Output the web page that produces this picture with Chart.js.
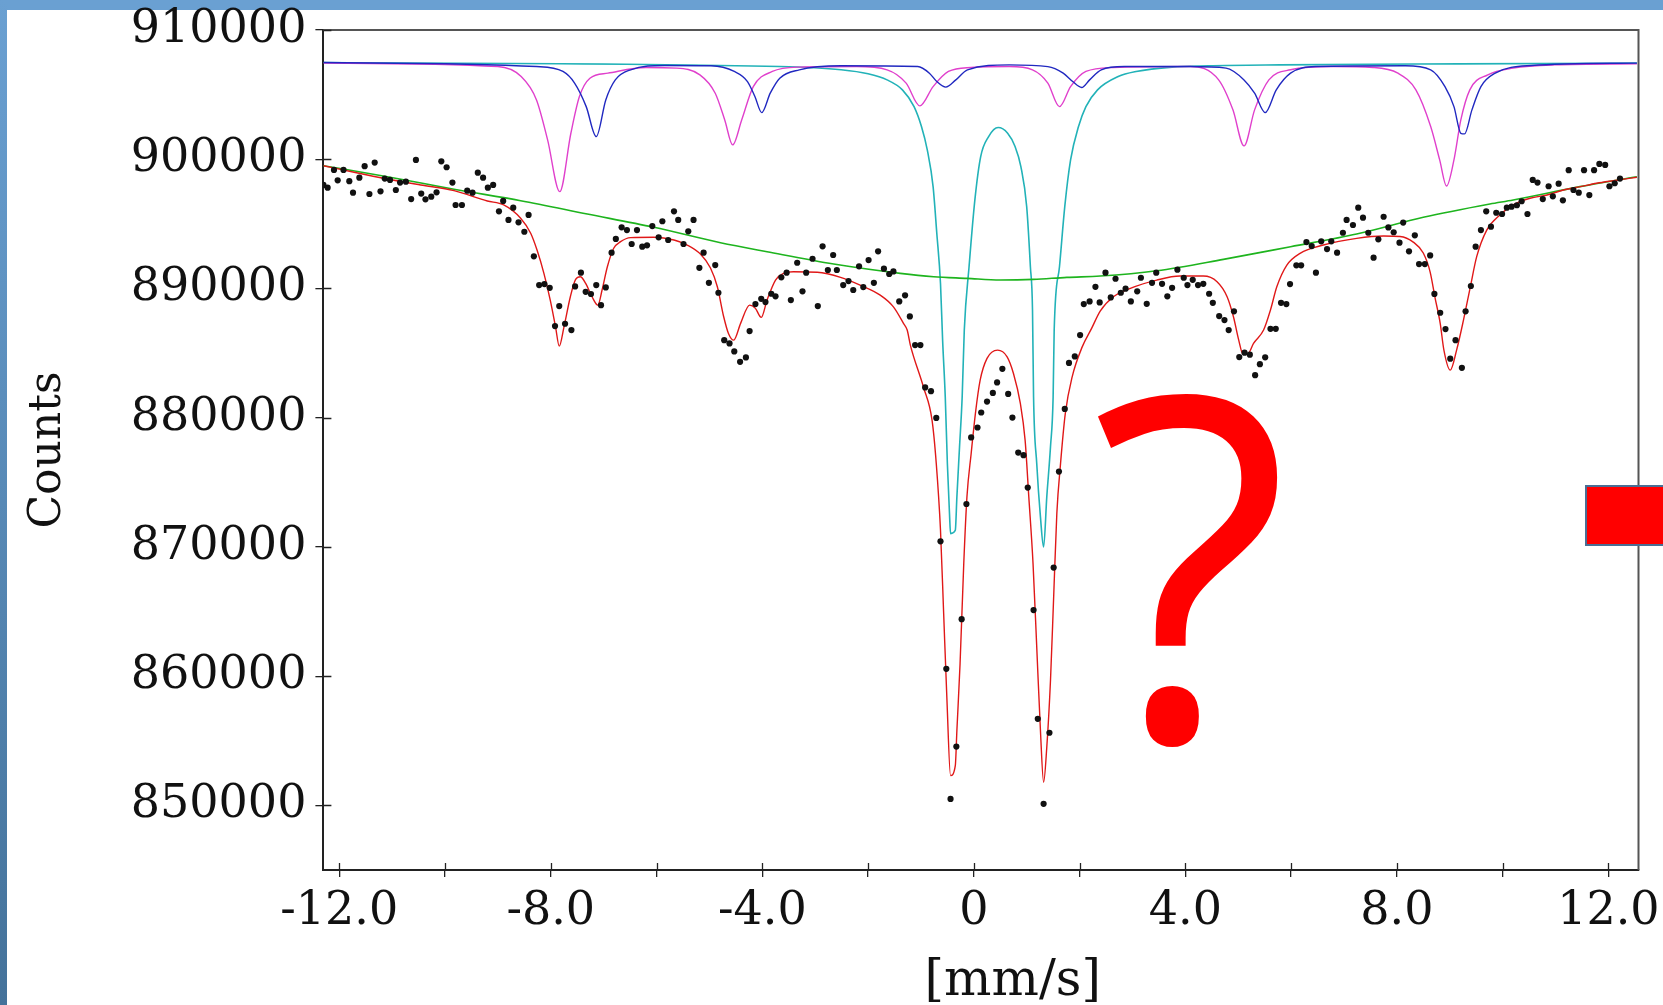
<!DOCTYPE html>
<html>
<head>
<meta charset="utf-8">
<script src="https://cdn.jsdelivr.net/npm/chart.js@4.4.1/dist/chart.umd.min.js"></script>
<style>
  html, body { margin:0; padding:0; background:#ffffff; overflow:hidden; }
  #topband { position:absolute; left:0; top:0; width:1663px; height:10px; background:#6aa0d2; }
  #leftband { position:absolute; left:0; top:0; width:7px; height:1005px; background:linear-gradient(#6aa0d2, #44729a); }
  #c { position:absolute; left:0; top:0; }
  #redbox { position:absolute; left:1585px; top:485px; width:80px; height:57px; background:#ff0000; border:2px solid #4a6e94; box-sizing:content-box; }
</style>
</head>
<body>
<div id="topband"></div>
<div id="leftband"></div>
<canvas id="c" width="1663" height="1005"></canvas>
<div id="redbox"></div>
<script>
// ---------- data (velocity in mm/s, counts) ----------
const pointV = [-12.30,-12.22,-12.10,-12.03,-11.92,-11.81,-11.74,-11.62,-11.52,-11.43,
-11.33,-11.22,-11.14,-11.04,-10.93,-10.85,-10.74,-10.64,-10.55,-10.45,
-10.37,-10.26,-10.16,-10.07,-9.97,-9.86,-9.80,-9.68,-9.58,-9.48,
-9.38,-9.28,-9.19,-9.09,-8.98,-8.90,-8.80,-8.71,-8.61,-8.50,
-8.42,-8.32,-8.22,-8.12,-8.02,-7.92,-7.84,-7.73,-7.61,-7.54,
-7.43,-7.34,-7.24,-7.14,-7.05,-6.96,-6.85,-6.77,-6.66,-6.56,
-6.47,-6.37,-6.27,-6.18,-6.08,-5.96,-5.89,-5.78,-5.67,-5.59,
-5.49,-5.40,-5.30,-5.19,-5.11,-5.01,-4.89,-4.83,-4.72,-4.62,
-4.53,-4.42,-4.31,-4.24,-4.13,-4.02,-3.94,-3.83,-3.75,-3.64,
-3.54,-3.46,-3.34,-3.24,-3.17,-3.05,-2.95,-2.86,-2.76,-2.66,
-2.59,-2.47,-2.37,-2.28,-2.17,-2.09,-1.99,-1.89,-1.81,-1.70,
-1.60,-1.52,-1.41,-1.30,-1.21,-1.11,-1.01,-0.92,-0.81,-0.71,
-0.63,-0.52,-0.44,-0.33,-0.23,-0.14,-0.05,0.07,0.14,0.25,
0.36,0.44,0.54,0.65,0.73,0.84,0.94,1.02,1.13,1.21,
1.32,1.43,1.51,1.61,1.72,1.80,1.91,2.01,2.08,2.19,
2.30,2.38,2.49,2.59,2.68,2.78,2.87,2.97,3.09,3.16,
3.27,3.37,3.45,3.56,3.66,3.75,3.85,3.97,4.04,4.14,
4.24,4.34,4.45,4.52,4.64,4.74,4.82,4.92,5.02,5.12,
5.22,5.32,5.41,5.51,5.61,5.71,5.81,5.91,5.98,6.10,
6.19,6.29,6.39,6.47,6.57,6.68,6.76,6.87,6.98,7.05,
7.17,7.27,7.36,7.46,7.56,7.65,7.75,7.84,7.94,8.05,
8.12,8.23,8.34,8.42,8.53,8.63,8.71,8.82,8.92,9.01,
9.11,9.23,9.30,9.40,9.49,9.59,9.69,9.78,9.88,9.99,
10.08,10.17,10.27,10.36,10.47,10.57,10.66,10.76,10.87,10.95,
11.06,11.14,11.25,11.34,11.44,11.54,11.64,11.73,11.83,11.94,
12.02,12.12,12.22];
const pointCounts = [898010,897800,899170,898370,899170,898300,897410,898570,899460,897310,
899740,897520,898500,898400,897620,898190,898260,896920,899950,897340,
896900,897100,897440,899840,899380,898190,896460,896460,897570,897410,
898960,898570,897800,898010,895970,896770,895300,896250,895120,894390,
895690,892490,890260,890340,890050,887090,888640,887270,886780,890160,
891220,889740,889570,890260,888710,890080,892770,893830,894730,894520,
893440,894520,893230,893340,894830,893960,895200,893750,895970,895300,
893440,894420,895300,891600,892770,890440,891810,889670,886000,885750,
885130,884320,884660,886700,888790,889200,888950,889590,889390,890860,
891220,889100,891990,889780,891220,892300,888640,893260,891430,892590,
891430,890260,890570,889880,891710,890110,892200,890440,892870,891530,
891120,891320,889000,889470,887840,885620,885620,882340,882050,879980,
870430,860570,850500,854550,864410,873320,878470,879240,880400,881250,
881920,882730,883780,881840,880010,877300,877100,874590,865110,856700,
850120,855620,868400,875830,880680,884240,884740,886390,888790,889000,
890130,888920,891220,889310,890750,889670,889980,889000,889780,890830,
888810,890440,891220,890360,889390,890050,891450,890830,890260,890670,
890260,890360,889590,888890,887860,887550,886780,888230,884690,885030,
884880,883290,884140,884670,886880,886880,888890,888790,890340,891790,
891790,893590,893280,891220,893650,893050,893650,892770,894310,895300,
894910,896250,895480,894310,892380,893800,895550,894720,894350,893540,
895100,892870,894110,891890,891890,892560,889580,888120,886860,884570,
886000,883860,888230,890190,893230,894520,895970,894780,895860,895760,
896250,896330,896440,896750,895760,898400,898190,896920,897910,897130,
898110,896820,899150,897620,897410,899150,897230,899150,899640,899560,
897910,898140,898500];

// total fit (red)
const fitV = [-12.30,-11.72,-11.09,-10.46,-9.83,-9.20,-8.89,-8.57,-8.38,-8.26,
-8.13,-8.01,-7.91,-7.84,-7.75,-7.63,-7.53,-7.44,-7.34,-7.22,
-7.11,-7.03,-6.93,-6.81,-6.68,-6.49,-6.05,-5.67,-5.42,-5.17,
-4.98,-4.85,-4.73,-4.64,-4.54,-4.41,-4.24,-4.13,-4.02,-3.91,
-3.75,-3.60,-3.41,-2.96,-2.52,-2.15,-1.77,-1.52,-1.33,-1.26,
-1.20,-0.95,-0.79,-0.71,-0.63,-0.57,-0.51,-0.44,-0.35,-0.32,
-0.26,-0.19,-0.13,-0.05,0.03,0.12,0.25,0.45,0.63,0.75,
0.88,0.97,1.04,1.12,1.19,1.26,1.32,1.38,1.45,1.51,
1.57,1.64,1.73,1.86,2.05,2.23,2.39,2.64,2.96,3.46,
3.90,4.34,4.60,4.79,4.91,5.01,5.09,5.19,5.29,5.48,
5.61,5.73,5.92,6.17,6.61,7.24,7.75,8.06,8.31,8.50,
8.63,8.72,8.82,8.89,9.01,9.13,9.26,9.39,9.51,9.70,
9.95,10.20,10.52,10.84,11.15,11.47,11.78,12.09,12.54];
const fitCounts = [899500,898990,898470,898010,897570,896770,896460,895430,894270,892970,
891170,889100,887030,885540,887030,889360,890700,890910,890390,889360,
888710,889880,891680,893110,893620,893930,893960,893750,893360,892660,
891580,890130,887810,886520,886000,887300,888710,888460,887760,889100,
890650,891170,891290,891250,890860,890260,889490,888580,887300,886780,
885620,882340,879810,876450,871290,864830,858370,852310,853080,855790,
860960,868710,873870,877230,880320,882900,884590,885230,884710,883420,
881100,878260,873870,868710,862250,855790,851790,854500,859670,866120,
872580,876450,880320,883160,885480,886930,888250,889360,890010,890650,
890960,890960,890520,889360,887810,886000,884920,884970,885750,886780,
888330,890130,891810,892720,893360,893880,894060,894020,893590,892740,
891270,889330,887300,885230,883680,885230,887550,890130,892460,894520,
895690,896460,896980,897230,897620,897880,898140,898340,898610];

// baseline (green)
const baseV = [-12.30,-11.09,-9.83,-8.57,-7.31,-6.05,-4.79,-3.91,-2.65,-1.39,-0.76,-0.13,0.50,1.13,1.76,2.39,3.46,4.72,5.99,7.24,8.50,9.76,10.20,11.46,12.54];
const baseCounts = [899500,898650,897680,896790,895760,894730,893540,892840,891890,891170,890910,890780,890650,890700,890860,890960,891370,892250,893230,894210,895510,896540,896850,897880,898650];

// doublet (cyan)
const doubletV = [-12.30,-3.67,-2.51,-2.00,-1.64,-1.35,-1.13,-0.99,-0.88,-0.77,
-0.70,-0.63,-0.59,-0.54,-0.50,-0.46,-0.44,-0.35,-0.32,-0.27,
-0.22,-0.18,-0.09,0.02,0.13,0.28,0.46,0.64,0.78,0.89,
1.00,1.07,1.11,1.13,1.19,1.26,1.32,1.38,1.45,1.50,
1.52,1.62,1.72,1.83,1.98,2.12,2.34,2.73,3.07,3.75,
4.43,5.78,9.18,12.54];
const doubletCounts = [907480,907170,906920,906610,906140,905370,904070,902530,900720,897880,
894270,890390,886000,881610,876450,872580,871030,871290,873870,877740,
881610,886780,891680,896850,900200,901750,902450,902010,900980,899430,
896330,891680,888330,881610,876450,872320,869990,873870,877740,881610,
886780,891680,896330,899950,902530,904070,905370,906400,906790,907130,
907230,907300,907380,907440];

// sextet A (magenta)
const sextetAV = [-12.30,-9.00,-8.56,-8.27,-8.06,-7.83,-7.62,-7.46,-7.26,-6.92,
-6.20,-5.62,-5.18,-4.89,-4.71,-4.56,-4.39,-4.17,-3.81,-3.30,
-2.22,-1.64,-1.28,-1.02,-0.77,-0.48,-0.05,0.67,1.11,1.40,
1.62,1.83,2.12,2.63,4.09,4.63,4.90,5.11,5.31,5.58,
5.99,6.80,7.55,8.02,8.36,8.64,8.81,8.94,9.08,9.21,
9.38,9.72,10.20,10.98,12.54];
const sextetACounts = [907440,907170,906400,904590,901500,897490,902010,904830,906270,906660,
907100,907050,906530,905110,903040,901110,903040,905620,906790,907130,
907170,906920,905890,904130,905620,906790,907100,907170,906920,905890,
904070,905620,906790,907100,907170,906140,903820,901030,903820,906140,
906920,907170,907100,906660,905370,902530,899950,897930,899950,903040,
905370,906530,907050,907300,907380];

// sextet B (blue)
const sextetBV = [-12.30,-8.27,-7.77,-7.55,-7.33,-7.14,-6.96,-6.78,-6.49,-5.84,
-4.97,-4.53,-4.28,-4.14,-4.01,-3.85,-3.67,-3.30,-2.51,-1.06,
-0.84,-0.70,-0.53,-0.34,-0.12,0.67,1.40,1.69,1.87,2.04,
2.19,2.41,2.85,4.09,4.77,5.11,5.31,5.51,5.72,5.99,
6.46,8.16,8.64,8.91,9.08,9.21,9.28,9.42,9.59,9.86,
10.54,12.54];
const sextetBCounts = [907480,907170,906790,905890,904070,901750,904590,906140,906920,907250,
907230,906790,906010,904850,903610,905110,906270,906920,907230,907170,
906660,906010,905580,906140,906920,907300,907170,906660,906010,905550,
906140,906920,907170,907170,907050,906140,905110,903610,905370,906660,
907170,907230,906920,905620,904070,902010,901960,903820,905620,906660,
907250,907440];

// ticks
const xTickValues = [-12,-10,-8,-6,-4,-2,0,2,4,6,8,10,12];
const xTickLabels = ['-12.0','','-8.0','','-4.0','','0','','4.0','','8.0','','12.0'];
const yTickValues = [850000,860000,870000,880000,890000,900000,910000];
const yTickLabels = ['850000','860000','870000','880000','890000','900000','910000'];
const xTitle = '[mm/s]';
const yTitle = 'Counts';
const overlayMark = '?';

// ---------- helpers ----------
function pairs(xs, ys) {
  const n = Math.min(xs.length, ys.length);
  const out = [];
  for (let i = 0; i < n; i++) out.push({ x: xs[i], y: ys[i] });
  return out;
}
function lineSet(label, xs, ys, color, width, order) {
  return { label, data: pairs(xs, ys), showLine: true, borderColor: color, backgroundColor: color,
    borderWidth: width, pointRadius: 0, fill: false, cubicInterpolationMode: 'monotone', order };
}

const SERIF = "'DejaVu Serif', 'Liberation Serif', serif";

const framePlugin = {
  id: 'frame',
  afterDraw(chart) {
    const { ctx, chartArea: a, scales } = chart;
    ctx.save();
    ctx.strokeStyle = '#555';
    ctx.lineWidth = 2;
    ctx.beginPath();
    ctx.moveTo(a.left, a.top); ctx.lineTo(a.right, a.top); ctx.lineTo(a.right, a.bottom);
    ctx.stroke();
    ctx.strokeStyle = '#222';
    ctx.lineWidth = 1.3;
    ctx.beginPath();
    xTickValues.forEach(v => {
      const px = Math.round(scales.x.getPixelForValue(v)) + 0.5;
      ctx.moveTo(px, a.bottom); ctx.lineTo(px, a.bottom - 7);
    });
    yTickValues.forEach(v => {
      const py = Math.round(scales.y.getPixelForValue(v)) + 0.5;
      ctx.moveTo(a.left, py); ctx.lineTo(a.left + 8, py);
    });
    ctx.stroke();
    ctx.restore();
  }
};

const markPlugin = {
  id: 'mark',
  afterDraw(chart) {
    const ctx = chart.ctx;
    ctx.save();
    ctx.font = "500px 'Open Sans', 'Noto Sans', sans-serif";
    const m = ctx.measureText(overlayMark);
    const w = m.actualBoundingBoxLeft + m.actualBoundingBoxRight;
    const h = m.actualBoundingBoxAscent + m.actualBoundingBoxDescent;
    const box = { x: 1091, y: 389, w: 187, h: 359 };
    ctx.translate(box.x, box.y);
    ctx.scale(box.w / w, box.h / h);
    ctx.fillStyle = '#ff0000';
    ctx.textBaseline = 'alphabetic';
    ctx.textAlign = 'left';
    ctx.fillText(overlayMark, m.actualBoundingBoxLeft, m.actualBoundingBoxAscent);
    ctx.restore();
  }
};

new Chart(document.getElementById('c'), {
  type: 'scatter',
  data: {
    datasets: [
      { label: 'data', data: pairs(pointV, pointCounts), showLine: false, pointRadius: 3.1,
        pointBackgroundColor: '#111', pointBorderWidth: 0, pointBorderColor: '#111', order: 0 },
      lineSet('fit', fitV, fitCounts, '#e01818', 1.4, 1),
      lineSet('baseline', baseV, baseCounts, '#1eb41e', 1.6, 2),
      lineSet('sextet B', sextetBV, sextetBCounts, '#2028c0', 1.4, 3),
      lineSet('sextet A', sextetAV, sextetACounts, '#e040cc', 1.4, 4),
      lineSet('doublet', doubletV, doubletCounts, '#22b2b8', 1.6, 5)
    ]
  },
  options: {
    responsive: false,
    animation: false,
    devicePixelRatio: 1,
    layout: { padding: { top: 30, right: 24.5, bottom: 0, left: 0 } },
    plugins: { legend: { display: false }, tooltip: { enabled: false } },
    scales: {
      x: {
        type: 'linear', min: -12.3, max: 12.57,
        afterBuildTicks: s => { s.ticks = xTickValues.map(v => ({ value: v })); },
        afterFit: s => { s.height = 135; s.paddingLeft = 0; s.paddingRight = 0; },
        ticks: { callback: (v, i) => xTickLabels[i], font: { family: SERIF, size: 46 }, color: '#111',
          padding: 7, maxRotation: 0, autoSkip: false },
        grid: { drawOnChartArea: false, drawTicks: true, tickLength: 7, color: '#222', lineWidth: 1.3 },
        border: { display: true, color: '#222', width: 2 },
        title: { display: true, text: '    ' + xTitle, font: { family: SERIF, size: 50, lineHeight: 0.9 }, color: '#111',
          padding: { top: 0, bottom: 0 } }
      },
      y: {
        type: 'linear', min: 845000, max: 910000,
        afterBuildTicks: s => { s.ticks = yTickValues.map(v => ({ value: v })); },
        afterFit: s => { s.width = 323.4; s.paddingTop = 0; s.paddingBottom = 0; },
        ticks: { callback: (v, i) => yTickLabels[i], font: { family: SERIF, size: 46 }, color: '#111',
          padding: 9, autoSkip: false },
        grid: { drawOnChartArea: false, drawTicks: true, tickLength: 8, color: '#222', lineWidth: 1.3 },
        border: { display: true, color: '#222', width: 2 },
        title: { display: true, text: yTitle, font: { family: SERIF, size: 44 }, color: '#111',
          padding: { top: 22, bottom: 0 } }
      }
    }
  },
  plugins: [framePlugin, markPlugin]
});
</script>
</body>
</html>
